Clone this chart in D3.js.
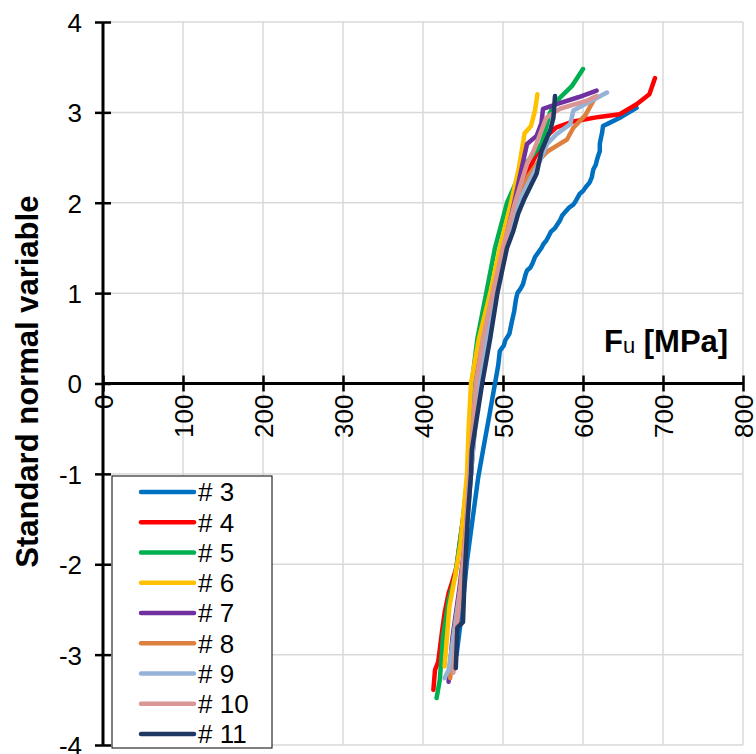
<!DOCTYPE html>
<html>
<head>
<meta charset="utf-8">
<script src="https://cdn.jsdelivr.net/npm/d3@7"></script>
<style>
  html, body { margin: 0; padding: 0; background: #fff; }
  svg { display: block; font-family: "Liberation Sans", Arial, sans-serif; }
</style>
</head>
<body>
<svg id="chart" width="756" height="754"></svg>
<script>
// Probability plots of ultimate strength Fu per specimen group: [Fu (MPa), standard normal variable]
const seriesNames = ["# 3", "# 4", "# 5", "# 6", "# 7", "# 8", "# 9", "# 10", "# 11"];
const seriesColors = ["#0070C0", "#FF0000", "#00B050", "#FFC000", "#7030A0",
                      "#DD8040", "#95B3D7", "#D99694", "#1F3864"];

const s3 = [[442,-3.0],[449,-2.5],[455,-1.96],[462,-1.5],[469,-1.04],[475,-0.74],[483,-0.35],[490,0],
  [494,0.2],[496,0.36],[501,0.42],[503,0.48],[508,0.55],[511,0.68],[514,0.8],[516,0.92],[518,1.0],
  [522,1.05],[525,1.1],[528,1.2],[530,1.25],[534,1.28],[537,1.33],[540,1.4],[544,1.45],[548,1.5],
  [551,1.55],[554,1.58],[557,1.63],[560,1.68],[565,1.72],[571,1.8],[574,1.86],[578,1.9],[583,1.95],
  [588,1.98],[591,2.02],[596,2.1],[600,2.13],[604,2.18],[608,2.22],[611,2.28],[612,2.33],[613,2.37],
  [616,2.42],[617,2.46],[619,2.52],[621,2.57],[621,2.65],[622,2.7],[624,2.78],[625,2.85],[630,2.87],
  [648,2.95],[667,3.05]];
const s4 = [[413,-3.39],[415,-3.17],[419,-3.08],[424,-2.73],[427,-2.54],[432,-2.32],[436,-2.21],
  [442,-2.03],[450,-1.5],[457,-1.0],[461,-0.5],[464,0],[475,0.5],[486,1.0],[499,1.5],[513,2.0],
  [528,2.3],[537,2.45],[546,2.61],[556,2.75],[566,2.83],[588,2.9],[620,2.95],[646,2.98],[667,3.09],
  [683,3.2],[690,3.38]];
const s5 = [[417,-3.48],[421,-3.28],[425,-2.8],[432,-2.4],[440,-2.14],[450,-1.5],[456,-1.0],[458,-0.5],
  [461,0],[468,0.5],[479,1.0],[490,1.5],[505,2.0],[515,2.2],[530,2.45],[548,2.65],[553,2.8],
  [558,2.98],[562,3.05],[571,3.16],[586,3.29],[600,3.48]];
const s6 = [[427,-3.13],[433,-2.47],[440,-2.14],[447,-1.77],[455,-1.0],[457,-0.5],[460,0],[470,0.5],
  [484,1.0],[496,1.5],[510,2.0],[519,2.35],[522,2.5],[527,2.77],[535,2.85],[540,3.02],[543,3.2]];
const s7 = [[432,-3.3],[437,-2.8],[445,-2.3],[452,-1.8],[460,-1.0],[469,0],[478,0.5],[489,1.0],
  [501,1.5],[514,2.0],[524,2.41],[530,2.65],[542,2.74],[548,2.88],[550,3.04],[570,3.1],[595,3.17],
  [617,3.24]];
const s8 = [[434,-3.26],[438,-2.8],[446,-2.3],[452,-1.8],[459,-1.0],[467,0],[477,0.5],[488,1.0],
  [502,1.5],[517,2.0],[532,2.3],[548,2.5],[556,2.57],[567,2.63],[580,2.7],[588,2.83],[603,2.97],
  [615,3.16]];
const s9 = [[427,-3.26],[432,-3.17],[440,-2.7],[448,-2.2],[454,-1.7],[460,-1.0],[470,0],[479,0.5],
  [490,1.0],[504,1.5],[519,2.0],[546,2.46],[555,2.65],[567,2.76],[584,2.87],[588,3.02],[630,3.22]];
const s10 = [[438,-3.2],[442,-2.7],[448,-2.2],[453,-1.7],[458,-1.0],[466,0],[475,0.5],[487,1.0],
  [500,1.5],[515,2.0],[530,2.43],[538,2.57],[546,2.75],[554,2.94],[571,3.04],[605,3.13],[617,3.18]];
const s11 = [[441,-3.15],[443,-2.7],[450,-2.64],[452,-2.14],[456,-1.48],[460,-1.0],[461,-0.74],
  [474,0],[484,0.5],[493,1.0],[505,1.5],[513,1.69],[519,1.88],[527,2.05],[542,2.32],[548,2.57],
  [559,2.8],[563,2.94],[565,3.18]];
const seriesData = [s3, s4, s5, s6, s7, s8, s9, s10, s11];

const xTicks = [0, 100, 200, 300, 400, 500, 600, 700, 800];
const yTicks = [-4, -3, -2, -1, 0, 1, 2, 3, 4];

const svg = d3.select("#chart");
const x = d3.scaleLinear().domain([0, 800]).range([103, 743]);
const y = d3.scaleLinear().domain([-4, 4]).range([745, 22]);
const plain = d => String(d);

// gridlines
const grid = svg.append("g");
grid.selectAll("line.v").data(xTicks.slice(1)).join("line")
  .attr("x1", d => x(d)).attr("x2", d => x(d))
  .attr("y1", y(4)).attr("y2", y(-4))
  .attr("stroke", "#D9D9D9").attr("stroke-width", 1.5);
grid.selectAll("line.h").data(yTicks).join("line")
  .attr("x1", x(0)).attr("x2", x(800))
  .attr("y1", d => y(d)).attr("y2", d => y(d))
  .attr("stroke", "#D9D9D9").attr("stroke-width", 1.5);

// x axis through z = 0, ticks crossing the line, labels rotated
const xAxis = svg.append("g").attr("transform", `translate(0,${y(0)})`)
  .call(d3.axisBottom(x).tickValues(xTicks).tickFormat(plain).tickSize(0).tickPadding(0));
xAxis.select(".domain").remove();
xAxis.append("line").attr("x1", x(0)).attr("x2", x(800))
  .attr("stroke", "#000").attr("stroke-width", 3);
xAxis.selectAll(".tick").append("line")
  .attr("y1", -8).attr("y2", 8).attr("stroke", "#000").attr("stroke-width", 2.5);
xAxis.selectAll(".tick text")
  .attr("font-size", 26).attr("fill", "#000")
  .attr("font-family", "Liberation Sans, Arial, sans-serif")
  .attr("text-anchor", "end")
  .attr("transform", "translate(0,11) rotate(-90)")
  .attr("x", 0).attr("y", 0).attr("dy", "0.36em");

// y axis at Fu = 0
const yAxis = svg.append("g").attr("transform", `translate(${x(0)},0)`)
  .call(d3.axisLeft(y).tickValues(yTicks).tickFormat(plain).tickSize(0).tickPadding(0));
yAxis.select(".domain").remove();
yAxis.append("line").attr("y1", y(4)).attr("y2", y(-4))
  .attr("stroke", "#000").attr("stroke-width", 3);
yAxis.selectAll(".tick").append("line")
  .attr("x1", -8).attr("x2", 8).attr("stroke", "#000").attr("stroke-width", 2.5);
yAxis.selectAll(".tick text")
  .attr("font-size", 26).attr("fill", "#000")
  .attr("font-family", "Liberation Sans, Arial, sans-serif")
  .attr("x", -21).attr("dy", "0.36em");

// series lines
const line = d3.line().x(d => x(d[0])).y(d => y(d[1]));
svg.append("g").selectAll("path").data(seriesData).join("path")
  .attr("d", line)
  .attr("fill", "none")
  .attr("stroke", (d, i) => seriesColors[i])
  .attr("stroke-width", 4.5)
  .attr("stroke-linejoin", "round")
  .attr("stroke-linecap", "round");

// axis titles
svg.append("text")
  .attr("transform", `translate(38,${y(0.02)}) rotate(-90)`)
  .attr("text-anchor", "middle")
  .attr("font-size", 31).attr("font-weight", "bold")
  .text("Standard normal variable");

const fu = svg.append("text").attr("x", 604).attr("y", 352)
  .attr("font-size", 31).attr("font-weight", "bold");
fu.append("tspan").text("F");
fu.append("tspan").attr("font-size", 22).attr("font-weight", "normal").attr("dy", 1).text("u");
fu.append("tspan").attr("dy", -1).text(" [MPa]");

// legend
const legend = svg.append("g");
legend.append("rect").attr("x", 112).attr("y", 476).attr("width", 160).attr("height", 272)
  .attr("fill", "#fff").attr("stroke", "#000").attr("stroke-width", 1);
const rows = legend.selectAll("g.row").data(seriesNames).join("g")
  .attr("transform", (d, i) => `translate(0,${492 + i * 30.25})`);
rows.append("line").attr("x1", 141).attr("x2", 194)
  .attr("stroke", (d, i) => seriesColors[i]).attr("stroke-width", 4.5)
  .attr("stroke-linecap", "round");
rows.append("text").attr("x", 198).attr("dy", "0.36em")
  .attr("font-size", 26).text(d => d);
</script>
</body>
</html>
